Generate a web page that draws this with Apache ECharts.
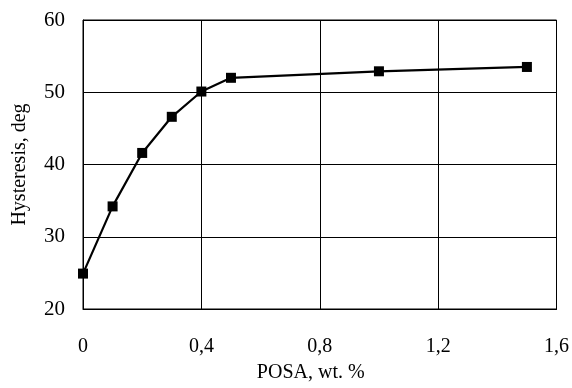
<!DOCTYPE html>
<html>
<head>
<meta charset="utf-8">
<script src="https://cdn.jsdelivr.net/npm/echarts@6/dist/echarts.min.js"></script>
<style>
  html, body { margin: 0; padding: 0; background: #fff; }
  #chart { width: 572px; height: 388px; }
</style>
</head>
<body>
<div id="chart"></div>
<script>
// POSA content, wt. %
const posa = [0, 0.1, 0.2, 0.3, 0.4, 0.5, 1.0, 1.5];
// contact angle hysteresis, deg
const hysteresis = [24.9, 34.2, 41.6, 46.6, 50.1, 52.0, 52.9, 53.5];

const font = 'Liberation Serif, Times New Roman, serif';
const chart = echarts.init(document.getElementById('chart'));

chart.setOption({
  animation: false,
  grid: {
    left: 83, right: 15, top: 20, bottom: 70,
    show: true, borderColor: '#000', borderWidth: 1
  },
  xAxis: {
    type: 'value',
    min: 0, max: 1.6, interval: 0.4,
    name: 'POSA, wt. %',
    nameLocation: 'middle',
    nameGap: 54,
    nameTextStyle: { fontFamily: font, fontSize: 20, color: '#000', padding: [0, 18, 0, 0] },
    axisLine: { show: true, lineStyle: { color: '#000', width: 1 } },
    axisTick: { show: false },
    axisLabel: {
      margin: 28, fontFamily: font, fontSize: 20, color: '#000',
      formatter: v => (v === 0 ? '0' : v.toFixed(1).replace('.', ','))
    },
    splitLine: { show: true, lineStyle: { color: '#000', width: 1 } }
  },
  yAxis: {
    type: 'value',
    min: 20, max: 60, interval: 10,
    name: 'Hysteresis, deg',
    nameLocation: 'middle',
    nameGap: 53,
    nameTextStyle: { fontFamily: font, fontSize: 20, color: '#000' },
    axisLine: { show: true, lineStyle: { color: '#000', width: 1 } },
    axisTick: { show: false },
    axisLabel: { margin: 18, fontFamily: font, fontSize: 21, color: '#000' },
    splitLine: { show: true, lineStyle: { color: '#000', width: 1 } }
  },
  series: [{
    type: 'line',
    data: posa.map((x, i) => [x, hysteresis[i]]),
    symbol: 'rect',
    symbolSize: 10,
    itemStyle: { color: '#000' },
    lineStyle: { color: '#000', width: 2.2 }
  }]
});
</script>
</body>
</html>
